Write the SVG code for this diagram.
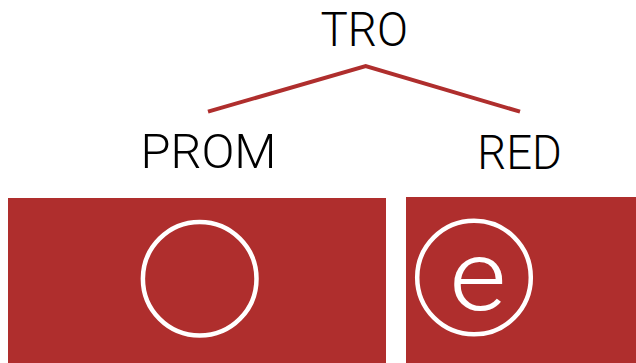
<svg xmlns="http://www.w3.org/2000/svg" width="636" height="363" viewBox="0 0 636 363">
  <style>
    .label { font-family: Roboto, "Liberation Sans", sans-serif; font-weight: 300; font-size: 48px; fill: #000; }
    .box { fill: #AF2E2D; }
    .ring { fill: none; stroke: #fff; stroke-width: 4.5; }
    .branch { fill: none; stroke: #AF2E2D; stroke-width: 4; stroke-linejoin: miter; }
    .glyph { font-family: Roboto, "Liberation Sans", sans-serif; font-weight: 300; font-size: 98px; fill: #fff; }
  </style>
  <rect width="636" height="363" fill="#fff"/>

  <!-- tree connectors -->
  <g id="connectors">
    <polyline class="branch" points="208,111.7 365.7,66 520,111.7"/>
  </g>

  <!-- labels -->
  <g id="node-tro">
    <text class="label" x="320.5" y="46" textLength="87.5" lengthAdjust="spacingAndGlyphs">TRO</text>
  </g>
  <g id="node-prom">
    <text class="label" x="140.5" y="168.3" textLength="136" lengthAdjust="spacingAndGlyphs">PROM</text>
  </g>
  <g id="node-red">
    <text class="label" x="477.3" y="169" textLength="84.5" lengthAdjust="spacingAndGlyphs">RED</text>
  </g>

  <!-- red panels -->
  <g id="panel-prom">
    <rect class="box" x="8" y="198" width="378" height="165"/>
    <circle class="ring" cx="199.7" cy="278.8" r="56.8"/>
  </g>
  <g id="panel-red">
    <rect class="box" x="406" y="197" width="230" height="166"/>
    <circle class="ring" cx="474" cy="277.5" r="56.8"/>
    <!-- slightly widened glyph for a rounder e -->
    <text class="glyph" x="478" y="310.5" text-anchor="middle" transform="translate(478 0) scale(1.12 1) translate(-478 0)">e</text>
  </g>
</svg>
